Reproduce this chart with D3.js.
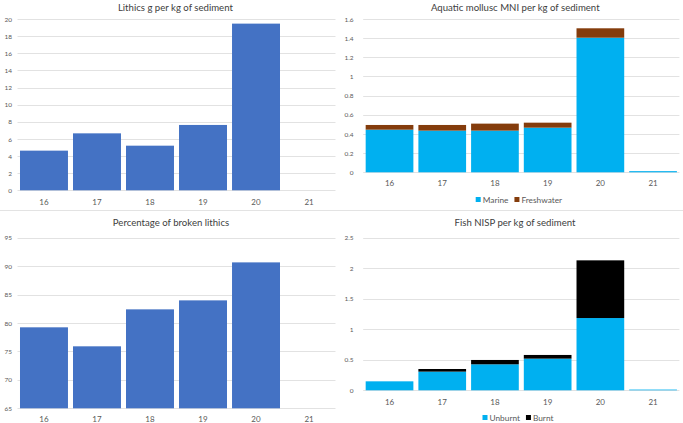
<!DOCTYPE html>
<html><head><meta charset="utf-8">
<script src="https://cdn.jsdelivr.net/npm/d3@7"></script>
<style>body{margin:0;background:#fff}svg{display:block;font-family:Lato,"Open Sans",sans-serif}</style>
</head><body><svg id="c" width="683" height="423"></svg>
<script>
const categories = ["16","17","18","19","20","21"];
const lithicsG = [4.63, 6.65, 5.21, 7.63, 19.46, 0];
const brokenPct = [79.24, 75.9, 82.4, 83.98, 90.66, null];
const molluscMarine = [0.445, 0.435, 0.435, 0.466, 1.405, 0.012];
const molluscFresh = [0.049, 0.059, 0.073, 0.052, 0.098, 0];
const fishUnburnt = [0.147, 0.306, 0.426, 0.519, 1.184, 0.012];
const fishBurnt = [0, 0.043, 0.071, 0.06, 0.945, 0];
const ticksLithics = [0,2,4,6,8,10,12,14,16,18,20];
const ticksBroken = [65,70,75,80,85,90,95];
const ticksMollusc = [0,0.2,0.4,0.6,0.8,1,1.2,1.4,1.6];
const ticksFish = [0,0.5,1,1.5,2,2.5];

const svg = d3.select("#c");
svg.append("line").attr("x1",0).attr("x2",683).attr("y1",210.5).attr("y2",210.5).attr("stroke","#e3e3e3");

function panel(o){
  const g = svg.append("g");
  const x = d3.scaleBand().domain(categories).range([o.x0,o.x1]).paddingInner(0.095).paddingOuter(0.047);
  const y = d3.scaleLinear().domain(o.domain).range([o.y0,o.y1]);
  g.append("text").attr("x",o.titleX).attr("y",o.titleY).attr("text-anchor","middle")
    .attr("font-size",9.6).attr("fill","#404040").text(o.title);
  g.selectAll(".grid").data(o.ticks).join("line")
    .attr("x1",o.x0).attr("x2",o.x1).attr("y1",d=>Math.round(y(d))+0.5).attr("y2",d=>Math.round(y(d))+0.5)
    .attr("stroke","#e2e2e2").attr("stroke-width",1);
  const ya = d3.axisLeft(y).tickValues(o.ticks).tickSize(0).tickPadding(0).tickFormat(d=>String(d));
  const yg = g.append("g").attr("transform",`translate(${o.labelX},0)`).call(ya);
  yg.select(".domain").remove();
  yg.selectAll("text").attr("font-size",6.5).attr("fill","#595959").attr("font-family","Lato,sans-serif");
  const xa = d3.axisBottom(x).tickSize(0).tickPadding(0);
  const xg = g.append("g").attr("transform",`translate(0,${o.xLabelY})`).call(xa);
  xg.select(".domain").remove();
  xg.selectAll("text").attr("font-size",8).attr("fill","#595959").attr("font-family","Lato,sans-serif").attr("dy","0");
  o.series.forEach((s,si)=>{
    g.selectAll(".b"+si).data(categories.map((c,i)=>({c,i}))).join("rect")
      .filter(d=>s.values[d.i]!=null && s.values[d.i]>0)
      .attr("x",d=>x(d.c)).attr("width",x.bandwidth())
      .attr("y",d=>{const base=o.series.slice(0,si).reduce((a,t)=>a+(t.values[d.i]||0),o.stackBase??0);return y(base+s.values[d.i]);})
      .attr("height",d=>{const base=o.series.slice(0,si).reduce((a,t)=>a+(t.values[d.i]||0),o.stackBase??0);return y(base)-y(base+s.values[d.i]);})
      .attr("fill",s.color);
  });
  if(o.legend){
    const lg = g.append("g");
    let cx = o.legendX;
    o.series.forEach(s=>{
      lg.append("rect").attr("x",cx).attr("y",o.legendY-5.5).attr("width",5).attr("height",5).attr("fill",s.color);
      const t = lg.append("text").attr("x",cx+7).attr("y",o.legendY).attr("font-size",8.3).attr("fill","#595959").text(s.name);
      cx += 7 + t.node().getComputedTextLength() + 6;
    });
  }
}

panel({title:"Lithics g per kg of sediment", x0:17.5, x1:335.5, y0:190.3, y1:19, domain:[0,20], ticks:ticksLithics,
  titleX:175.4, titleY:11, labelX:12, xLabelY:204.5, series:[{name:"Lithics",values:lithicsG,color:"#4472C4"}]});
panel({title:"Aquatic mollusc MNI per kg of sediment", x0:363.2, x1:679.4, y0:172.3, y1:19, domain:[0,1.6], ticks:ticksMollusc,
  titleX:515.3, titleY:11, labelX:353.5, xLabelY:186, series:[{name:"Marine",values:molluscMarine,color:"#00B0F0"},{name:"Freshwater",values:molluscFresh,color:"#843C0C"}],
  legend:true, legendX:475.7, legendY:202.5});
panel({title:"Percentage of broken lithics", x0:17.5, x1:335.5, y0:408.3, y1:237.7, domain:[65,95], ticks:ticksBroken, stackBase:65,
  titleX:171, titleY:226, labelX:12, xLabelY:422, series:[{name:"Broken",values:brokenPct.map(v=>v==null?null:v-65),color:"#4472C4"}]});
panel({title:"Fish NISP per kg of sediment", x0:363.2, x1:679.4, y0:390.3, y1:237.7, domain:[0,2.5], ticks:ticksFish,
  titleX:515, titleY:226, labelX:353.5, xLabelY:404.5, series:[{name:"Unburnt",values:fishUnburnt,color:"#00B0F0"},{name:"Burnt",values:fishBurnt,color:"#000000"}],
  legend:true, legendX:482.5, legendY:420.5});
</script></body></html>
